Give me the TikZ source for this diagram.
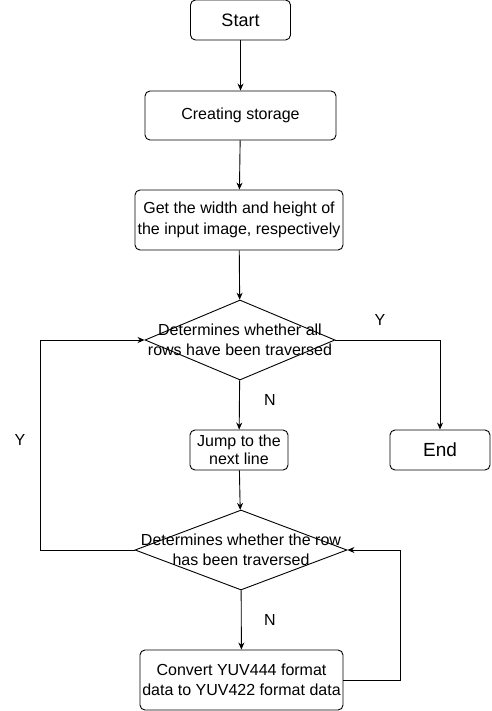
\documentclass[tikz,border=0pt]{standalone}
\usepackage{fontspec}
\setmainfont{Liberation Sans}
\usetikzlibrary{shapes.geometric,arrows.meta}
\begin{document}
\begin{tikzpicture}[x=1pt,y=-1pt,>={Stealth[length=7pt,width=6pt]},line width=0.9pt,
box/.style={draw,rounded corners=5pt,inner sep=0pt,align=center,font=\fontsize{16}{20}\selectfont},
dec/.style={draw,diamond,inner sep=0pt},
txt/.style={align=center,inner sep=0pt,font=\fontsize{16}{20}\selectfont}]
\useasboundingbox (0,0) rectangle (491,711);
% boxes
\node[box,minimum width=100pt,minimum height=40pt,font=\fontsize{18}{22}\selectfont] (start) at (240.5,20) {Start};
\node[box,minimum width=191pt,minimum height=49pt] (store) at (240.5,115.5) {Creating storage};
\node[box,minimum width=208pt,minimum height=60pt,font=\fontsize{16}{21}\selectfont] (get) at (239,220) {Get the width and height of\\the input image, respectively};
\node[dec,minimum width=190pt,minimum height=80pt] (d1) at (240,340) {};
\node[txt] (d1t) at (d1) {Determines whether all\\rows have been traversed};
\node[box,minimum width=98pt,minimum height=40pt,font=\fontsize{16}{17.5}\selectfont] (jump) at (239,450) {Jump to the\\next line};
\node[box,minimum width=100pt,minimum height=40pt,font=\fontsize{19}{22}\selectfont] (end) at (440,450) {End};
\node[dec,minimum width=212pt,minimum height=80pt] (d2) at (241,550) {};
\node[txt] (d2t) at (d2) {Determines whether the row\\has been traversed};
\node[box,minimum width=203pt,minimum height=60pt] (conv) at (241.5,680) {Convert YUV444 format\\data to YUV422 format data};
% loop corners
\path
(40,550) coordinate (L)
(400,680) coordinate (R);
% connectors
\foreach \u/\v in {start/store,store/get,get/d1,d1/jump,jump/d2,d2/conv}{\draw[->] (\u)--(\v);
}
\draw[->] (d1.east) -| (end.north);
\draw[->] (d2.west) -- (L) |- (d1.west);
\draw[->] (conv.east) -- (R) |- (d2.east);
% labels
\foreach \p/\t in {{(380,320)}/Y,{(270,400)}/N,{(20,440)}/Y,{(270,620)}/N}{\node[txt] at \p {\t};
}
\end{tikzpicture}
\end{document}
